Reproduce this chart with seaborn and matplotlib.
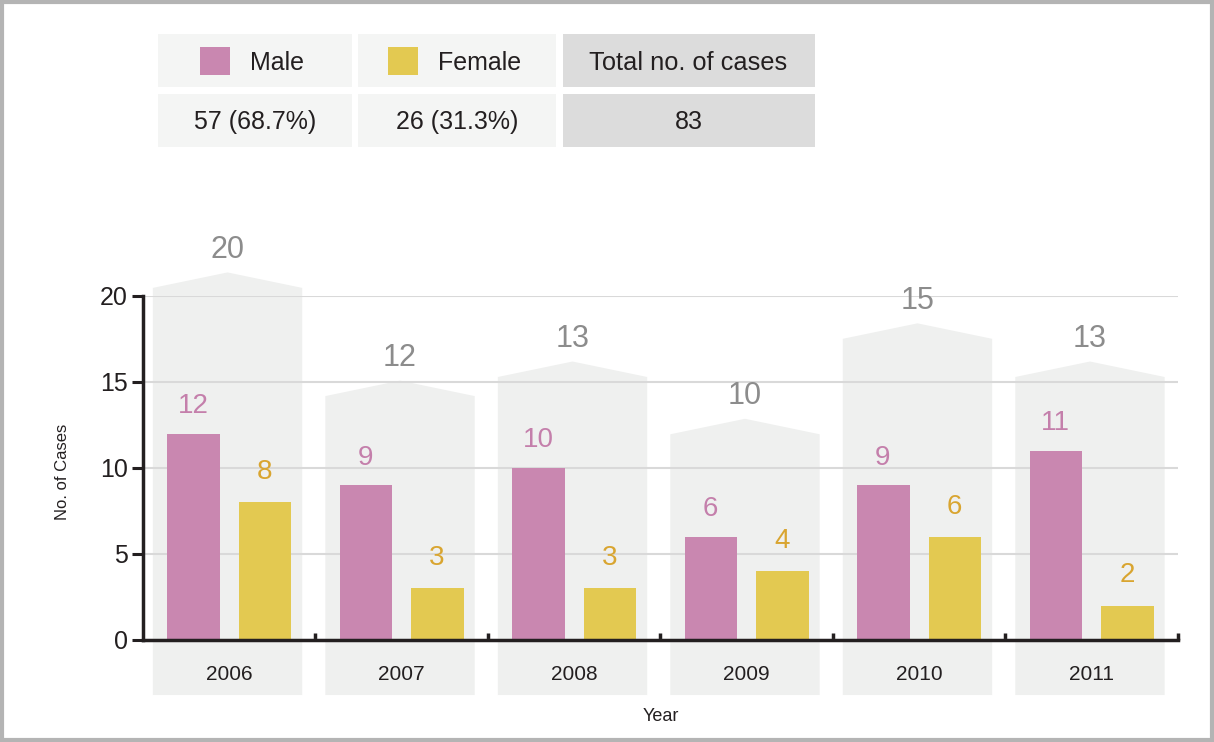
import numpy as np
import pandas as pd
import matplotlib
matplotlib.use("Agg")
import matplotlib.pyplot as plt
from matplotlib.patches import Polygon, Rectangle
import seaborn as sns

# Cases per year, split by sex
years = ["2006", "2007", "2008", "2009", "2010", "2011"]
male = [12, 9, 10, 6, 9, 11]
female = [8, 3, 3, 4, 6, 2]
sex_labels = ["Male", "Female"]
y_ticks = [0, 5, 10, 15, 20]

MALE_C = "#c987b0"
FEMALE_C = "#e3c951"
MALE_TXT = "#c47fab"
FEMALE_TXT = "#d9a530"
TOTAL_TXT = "#8c8c8c"
PANEL_C = "#eff0ef"
DARK = "#231f20"

totals = np.array(male) + np.array(female)
df = pd.DataFrame({
    "year": years * 2,
    "cases": male + female,
    "sex": [sex_labels[0]] * len(years) + [sex_labels[1]] * len(years),
})

sns.set_theme(style="white")
plt.rcParams["font.family"] = ["Liberation Sans", "DejaVu Sans"]

fig = plt.figure(figsize=(12.14, 7.42), dpi=100)
ax = fig.add_axes([0.1178, 0.1375, 0.8525, 0.4636])
ax.set_facecolor("none")

sns.barplot(data=df, x="year", y="cases", hue="sex",
            palette=[MALE_C, FEMALE_C], width=0.83, gap=0.265,
            saturation=1, linewidth=0, legend=False, ax=ax, zorder=2)

ymax = y_ticks[-1]
ax.set_ylim(0, ymax)
ax.set_xlim(-0.5, len(years) - 0.5)

# Background "house" panel behind each year, sized by the yearly total
half_w = 0.433
shoulders = np.minimum(totals * 1.11 + 0.86, ymax + 0.47)
for i, (tot, sh) in enumerate(zip(totals, shoulders)):
    cx = i - 0.01
    peak = sh + 0.9
    pts = [(cx - half_w, -3.2), (cx - half_w, sh), (cx, peak),
           (cx + half_w, sh), (cx + half_w, -3.2)]
    ax.add_patch(Polygon(pts, closed=True, facecolor=PANEL_C,
                         edgecolor="none", zorder=0.2, clip_on=False))
    ax.text(cx, peak + 1.3, f"{tot}", ha="center", va="center",
            fontsize=22, color=TOTAL_TXT, clip_on=False)

# Value labels above bars
for i, (m, f) in enumerate(zip(male, female)):
    ax.text(i - 0.21, m + 1.6, f"{m}", ha="center", va="center",
            fontsize=20, color=MALE_TXT)
    ax.text(i + 0.205, f + 1.75, f"{f}", ha="center", va="center",
            fontsize=20, color=FEMALE_TXT)

# Grid and axes styling
ax.set_yticks(y_ticks)
ax.yaxis.grid(True, color="#d9d9d9", linewidth=1.5)
ax.xaxis.grid(False)
ax.set_axisbelow(True)
for side in ["top", "right"]:
    ax.spines[side].set_visible(False)
for side in ["left", "bottom"]:
    ax.spines[side].set_color(DARK)
    ax.spines[side].set_linewidth(2.5)

ax.tick_params(axis="y", direction="out", length=8, width=2.2, color=DARK,
               labelsize=18, labelcolor=DARK, pad=3, left=True)
ax.set_xticks(range(len(years)))
ax.set_xticklabels(years)
ax.tick_params(axis="x", which="major", length=0, labelsize=15,
               labelcolor=DARK, pad=18)
ax.set_xticks(np.arange(0.5, len(years)), minor=True)
ax.tick_params(axis="x", which="minor", direction="in", length=5, width=2.5,
               color=DARK, bottom=True)

ax.set_ylabel("No. of Cases", fontsize=12, color=DARK)
ax.yaxis.set_label_coords(-0.0705, 0.49)
ax.set_xlabel("Year", fontsize=13, color=DARK)
ax.xaxis.set_label_coords(0.5, -0.198)

# Summary table at top
W, H = 1214, 742
def fx(px):
    return px / W
def fy(py):
    return 1 - py / H

male_sum = int(np.sum(male))
female_sum = int(np.sum(female))
grand = male_sum + female_sum
cols = [(158, 352, "#f4f5f4"), (358, 556, "#f4f5f4"), (563, 815, "#dcdcdc")]
rows = [(34, 87), (94, 147)]
for (x0, x1, c) in cols:
    for (y0, y1) in rows:
        fig.patches.append(Rectangle((fx(x0), fy(y1)), fx(x1) - fx(x0),
                                     fy(y0) - fy(y1), transform=fig.transFigure,
                                     facecolor=c, edgecolor="none", zorder=0))

row1_y = fy(63)
row2_y = fy(122)
for (sq_x, txt_x, col, lab) in [(200, 250, MALE_C, sex_labels[0]),
                                (388, 438, FEMALE_C, sex_labels[1])]:
    fig.patches.append(Rectangle((fx(sq_x), fy(75)), fx(30), 28 / H,
                                 transform=fig.transFigure, facecolor=col,
                                 edgecolor="none", zorder=1))
    fig.text(fx(txt_x), row1_y, lab, ha="left", va="center",
             fontsize=18, color=DARK)
fig.text(fx(688), row1_y, "Total no. of cases", ha="center", va="center",
         fontsize=18.3, color=DARK)
fig.text(fx(255), row2_y, f"{male_sum} ({male_sum / grand * 100:.1f}%)",
         ha="center", va="center", fontsize=18, color=DARK)
fig.text(fx(457), row2_y, f"{female_sum} ({female_sum / grand * 100:.1f}%)",
         ha="center", va="center", fontsize=18, color=DARK)
fig.text(fx(689), row2_y, f"{grand}", ha="center", va="center",
         fontsize=18, color=DARK)

# Outer frame
fig.patches.append(Rectangle((0.0015, 0.003), 0.997, 0.994,
                             transform=fig.transFigure, facecolor="none",
                             edgecolor="#b4b4b4", linewidth=3, zorder=5))

fig.savefig("out.png", dpi=100, facecolor="white")
